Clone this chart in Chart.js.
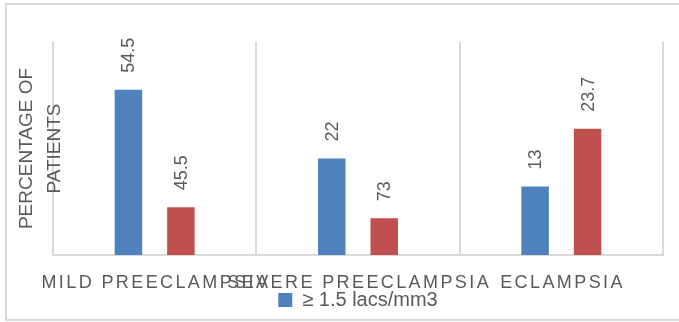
<!DOCTYPE html>
<html>
<head>
<meta charset="utf-8">
<script src="https://cdn.jsdelivr.net/npm/chart.js@4"></script>
<style>
html,body{margin:0;padding:0;background:#fff;}
#wrap{width:679px;height:322px;}
</style>
</head>
<body>
<div id="wrap"><canvas id="c" width="679" height="322"></canvas></div>
<script>
const categories = ['MILD PREECLAMPSIA', 'SEVERE PREECLAMPSIA', 'ECLAMPSIA'];
const seriesNames = ['\u2265 1.5 lacs/mm3', '< 1.5 lacs/mm3'];
const seriesA = [77.6, 45.3, 32.2];
const seriesB = [22.4, 17.3, 59.3];
const labelsA = ['54.5', '22', '13'];
const labelsB = ['45.5', '73', '23.7'];
const yTitle = ['PERCENTAGE OF', 'PATIENTS'];

const FONT = '"Liberation Sans", Arial, sans-serif';
const GREY = '#595959';

const frame = {
  id: 'frame',
  beforeDraw(chart) {
    const ctx = chart.ctx;
    ctx.save();
    ctx.fillStyle = '#fff';
    ctx.fillRect(0, 0, chart.width, chart.height);
    ctx.strokeStyle = '#d9d9d9';
    ctx.lineWidth = 2;
    ctx.strokeRect(6, 4, chart.width + 10, 316);
    ctx.restore();
  }
};

const extras = {
  id: 'extras',
  afterDatasetsDraw(chart) {
    const ctx = chart.ctx;
    const area = chart.chartArea;
    const xs = chart.scales.x;
    ctx.save();
    // value labels
    ctx.font = '18px ' + FONT;
    ctx.fillStyle = GREY;
    ctx.textAlign = 'left';
    ctx.textBaseline = 'middle';
    const texts = [labelsA, labelsB];
    chart.data.datasets.forEach((ds, di) => {
      chart.getDatasetMeta(di).data.forEach((bar, i) => {
        ctx.save();
        ctx.translate(bar.x + 1, bar.y - 17);
        ctx.rotate(-Math.PI / 2);
        ctx.fillText(texts[di][i], 0, 0);
        ctx.restore();
      });
    });
    // x category labels with letter spacing
    ctx.font = '18px ' + FONT;
    ctx.letterSpacing = '2.4px';
    ctx.textAlign = 'left';
    ctx.textBaseline = 'middle';
    categories.forEach((c, i) => {
      const w = ctx.measureText(c).width - 2.4;
      const cx = xs.getPixelForValue(i);
      ctx.fillText(c, cx - w / 2, 283);
    });
    ctx.letterSpacing = '0px';
    // y axis title
    ctx.font = '19px ' + FONT;
    ctx.textAlign = 'center';
    const cy = (area.top + area.bottom) / 2;
    const xs0 = [area.left - 26, area.left + 2];
    yTitle.forEach((t, i) => {
      ctx.save();
      ctx.translate(xs0[i], cy);
      ctx.rotate(-Math.PI / 2);
      ctx.fillText(t, 0, 0);
      ctx.restore();
    });
    ctx.restore();
  }
};

new Chart(document.getElementById('c'), {
  type: 'bar',
  data: {
    labels: categories,
    datasets: [
      { label: seriesNames[0], data: seriesA, backgroundColor: '#4f81bd' },
      { label: seriesNames[1], data: seriesB, backgroundColor: '#c0504d' }
    ]
  },
  options: {
    responsive: false,
    devicePixelRatio: 1,
    animation: false,
    categoryPercentage: 0.516,
    barPercentage: 0.524,
    layout: { padding: { left: 53, right: 16, top: 42, bottom: 2 } },
    scales: {
      x: {
        ticks: { display: false },
        grid: { color: '#d9d9d9', lineWidth: 2, drawTicks: false, offset: true },
        border: { color: '#d9d9d9', width: 2 },
        afterFit(scale) { scale.height = 30; }
      },
      y: { display: false, min: 0, max: 100 }
    },
    plugins: {
      legend: {
        position: 'bottom',
        labels: {
          font: { size: 20, family: FONT },
          color: GREY,
          boxWidth: 14,
          boxHeight: 14,
          padding: 5,
          filter: (item) => item.datasetIndex === 0
        }
      },
      tooltip: { enabled: false }
    }
  },
  plugins: [frame, extras]
});
</script>
</body>
</html>
